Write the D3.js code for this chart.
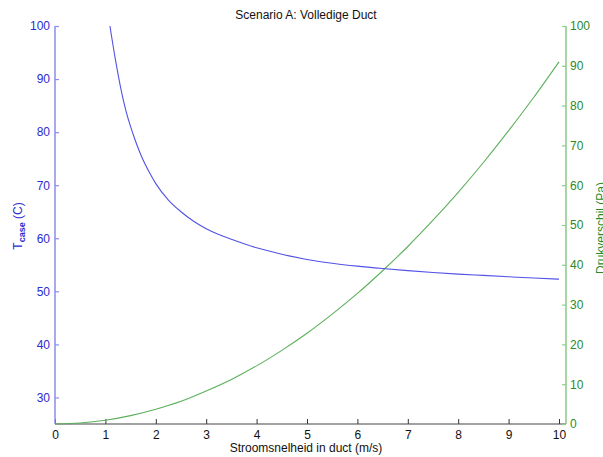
<!DOCTYPE html>
<html>
<head>
<meta charset="utf-8">
<script src="https://cdn.jsdelivr.net/npm/d3@7"></script>
<style>
  html, body { margin: 0; padding: 0; background: #fff; }
  svg { display: block; font-family: "Liberation Sans", Arial, Helvetica, sans-serif; }
</style>
</head>
<body>
<svg id="chart" width="603" height="457"></svg>
<script>
// ---- Data ----
const speedT = [1.09, 1.2, 1.3, 1.4, 1.55, 1.7, 1.885, 2.0, 2.25, 2.5, 2.75, 3.0, 3.25, 3.5, 4.0, 4.5, 5.0, 5.5, 6.0, 6.5, 7.0, 7.5, 8.0, 8.5, 9.0, 9.5, 10];
const tCase  = [100, 93.6, 88.5, 84.3, 79.6, 75.8, 72.2, 70.3, 67.2, 65.0, 63.2, 61.8, 60.7, 59.8, 58.2, 57.0, 56.0, 55.3, 54.75, 54.3, 53.9, 53.55, 53.25, 53.0, 52.75, 52.5, 52.3];

const speedP = [0, 0.5, 1, 1.5, 2, 2.5, 3, 3.5, 4, 4.5, 5, 5.5, 6, 6.5, 7, 7.5, 8, 8.5, 9, 9.5, 10];
const drukverschil = [0, 0.25, 0.95, 2.1, 3.7, 5.7, 8.3, 11.2, 14.6, 18.5, 22.8, 27.6, 32.8, 38.5, 44.6, 51.2, 58.2, 65.7, 73.7, 82.1, 91];

const xTicks = [0, 1, 2, 3, 4, 5, 6, 7, 8, 9, 10];
const yLeftTicks = [30, 40, 50, 60, 70, 80, 90, 100];
const yRightTicks = [0, 10, 20, 30, 40, 50, 60, 70, 80, 90, 100];

const title = "Scenario A: Volledige Duct";
const xLabel = "Stroomsnelheid in duct (m/s)";
const yRightLabel = "Drukverschil (Pa)";

// ---- Layout ----
const mLeft = 55, mRight = 559, rightAxisX = 566, mTop = 26, mBottom = 424;
const blueLine = "#5252e6", blueAxis = "#8c8cec", blueText = "#2b2bd0";
const greenLine = "#5cb05c", greenAxis = "#8fca8f", greenText = "#2a8a2a";

const svg = d3.select("#chart");

const x = d3.scaleLinear().domain([0, 10]).range([mLeft, mRight]);
const yL = d3.scaleLinear().domain([25, 100]).range([mBottom, mTop]);
const yR = d3.scaleLinear().domain([0, 100]).range([mBottom, mTop]);

// Bottom axis
const gx = svg.append("g").attr("transform", `translate(0,${mBottom})`)
  .call(d3.axisBottom(x).tickValues(xTicks).tickFormat(d3.format("d"))
    .tickSizeInner(-5).tickSizeOuter(0).tickPadding(6));
gx.select(".domain").remove();
gx.selectAll(".tick line").attr("stroke", "#333");
gx.selectAll(".tick text").attr("fill", "#111").attr("font-size", 12)
  .attr("font-family", "Liberation Sans, Arial, sans-serif");
svg.append("line").attr("x1", mLeft).attr("x2", rightAxisX).attr("y1", mBottom).attr("y2", mBottom)
  .attr("stroke", "#444").attr("stroke-width", 1.2);

// Left axis
const gl = svg.append("g").attr("transform", `translate(${mLeft},0)`)
  .call(d3.axisLeft(yL).tickValues(yLeftTicks).tickFormat(d3.format("d"))
    .tickSizeInner(-4).tickSizeOuter(0).tickPadding(5));
gl.select(".domain").remove();
gl.selectAll(".tick line").attr("stroke", blueAxis).attr("stroke-width", 1.2);
gl.selectAll(".tick text").attr("fill", blueText).attr("font-size", 12)
  .attr("font-family", "Liberation Sans, Arial, sans-serif");
svg.append("line").attr("x1", mLeft).attr("x2", mLeft).attr("y1", mTop).attr("y2", mBottom)
  .attr("stroke", blueAxis).attr("stroke-width", 1.5);

// Right axis
const gr = svg.append("g").attr("transform", `translate(${rightAxisX},0)`)
  .call(d3.axisRight(yR).tickValues(yRightTicks).tickFormat(d3.format("d"))
    .tickSizeInner(-4).tickSizeOuter(0).tickPadding(4));
gr.select(".domain").remove();
gr.selectAll(".tick line").attr("stroke", greenAxis).attr("stroke-width", 1.2);
gr.selectAll(".tick text").attr("fill", greenText).attr("font-size", 12)
  .attr("font-family", "Liberation Sans, Arial, sans-serif");
svg.append("line").attr("x1", rightAxisX).attr("x2", rightAxisX).attr("y1", mTop).attr("y2", mBottom)
  .attr("stroke", greenAxis).attr("stroke-width", 1.6);

// Lines
const lineT = d3.line().x((d, i) => x(speedT[i])).y(d => yL(d)).curve(d3.curveMonotoneX);
const lineP = d3.line().x((d, i) => x(speedP[i])).y(d => yR(d)).curve(d3.curveMonotoneX);

svg.append("path").attr("d", lineP(drukverschil)).attr("fill", "none")
  .attr("stroke", greenLine).attr("stroke-width", 1.1);
svg.append("path").attr("d", lineT(tCase)).attr("fill", "none")
  .attr("stroke", blueLine).attr("stroke-width", 1.1);

// Title
svg.append("text").attr("x", 306).attr("y", 18.5).attr("text-anchor", "middle")
  .attr("font-size", 12).attr("fill", "#111").text(title);

// X label
svg.append("text").attr("x", 306).attr("y", 452).attr("text-anchor", "middle")
  .attr("font-size", 12).attr("fill", "#111").text(xLabel);

// Left Y label: T_case (C)
const yl = svg.append("text").attr("transform", "translate(22,226) rotate(-90)")
  .attr("text-anchor", "middle").attr("font-size", 12).attr("fill", blueText);
yl.append("tspan").text("T");
yl.append("tspan").attr("font-size", 9).attr("font-weight", "bold").attr("dy", 3).text("case");
yl.append("tspan").attr("dy", -3).text(" (C)");

// Right Y label (partly beyond the right edge, as in the reference)
svg.append("text").attr("transform", "translate(596,228) rotate(-90)")
  .attr("text-anchor", "middle").attr("dominant-baseline", "hanging").attr("font-size", 12)
  .attr("fill", greenText).text(yRightLabel);
</script>
</body>
</html>
